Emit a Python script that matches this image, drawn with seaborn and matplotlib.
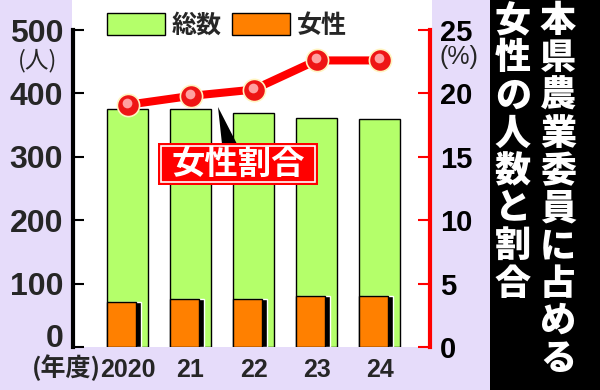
import matplotlib
matplotlib.use("Agg")
import matplotlib.pyplot as plt
import matplotlib.patheffects as pe
import matplotlib.transforms as mtransforms
from matplotlib.patches import Rectangle, Polygon, Patch
import seaborn as sns
import numpy as np
import pandas as pd

# data
years = ["2020", "21", "22", "23", "24"]
total = [375, 376, 369, 361, 359]
women = [71, 76, 76, 80, 80]
ratio = [19.1, 19.8, 20.3, 22.6, 22.6]
left_ticks = [0, 100, 200, 300, 400, 500]
right_ticks = [0, 5, 10, 15, 20, 25]
title_right = "本県農業委員に占める"
title_left = "女性の人数と割合"

green = "#b4ff6a"
orange = "#ff8000"
red = "#ff0000"
lavender = "#e6dcfa"

sns.set_style("white")
plt.rcParams["font.family"] = ["Noto Sans CJK JP", "DejaVu Sans"]
num_font = ["Liberation Sans", "DejaVu Sans"]

W, H = 600, 390
fig = plt.figure(figsize=(6, 3.9), dpi=100, facecolor=lavender)


def fx(px):
    return px / W


def fy(py):
    return 1 - py / H


# white plotting panel and black title panel
fig.patches.append(Rectangle((fx(72), fy(347)), fx(432) - fx(72), fy(0) - fy(347),
                             transform=fig.transFigure, facecolor="white",
                             edgecolor="none", zorder=-2))
fig.patches.append(Rectangle((fx(490), 0), 1 - fx(490), 1, transform=fig.transFigure,
                             facecolor="black", edgecolor="none", zorder=-2))

ax = fig.add_axes([fx(73), 43 / H, (430 - 73) / W, 317 / H])
ax.set_facecolor("none")

df = pd.DataFrame({"year": years, "total": total, "women": women, "ratio": ratio})
sns.barplot(data=df, x="year", y="total", color=green, saturation=1, width=0.65,
            edgecolor="black", linewidth=1, ax=ax, zorder=2)
xpos = np.arange(len(years))
ax.bar(xpos - 0.325 + 0.065, df["women"], width=0.48, align="edge", color="black",
       zorder=3)
ax.bar(xpos - 0.325, df["women"], width=0.46, align="edge", color=orange,
       edgecolor="black", linewidth=1, zorder=4)

ax.set_xlim(-0.865, 4.80)
ax.set_ylim(0, 500)
ax.set_yticks(left_ticks)
ylabels = ax.set_yticklabels([str(t) for t in left_ticks], family=num_font,
                             fontweight="bold", fontsize=23)
ylabels[0].set_verticalalignment("baseline")
ax.set_xticks(xpos)
ax.set_xticklabels(years, family=num_font, fontweight="bold", fontsize=18)
ax.tick_params(axis="y", direction="in", length=8, width=1.5, pad=7, color="black")
ax.tick_params(axis="x", length=0, pad=8)
ax.set_xlabel("")
ax.set_ylabel("")
for s in ["top", "right", "bottom"]:
    ax.spines[s].set_visible(False)
ax.spines["left"].set_linewidth(3)
ax.spines["left"].set_color("black")

ax2 = ax.twinx()
ax2.set_ylim(0, 25)
sns.lineplot(x=xpos, y=ratio, ax=ax2, color=red, linewidth=5.8,
             path_effects=[pe.Stroke(linewidth=7.6, foreground="white"), pe.Normal()],
             zorder=5)
ax2.plot(xpos, ratio, "o", markersize=16, markerfacecolor="#ee1515",
         markeredgecolor="#fff4c0", markeredgewidth=1.2, zorder=6)
shift = mtransforms.ScaledTranslation(-1 / 100, 2 / 100, fig.dpi_scale_trans)
ax2.plot(xpos, ratio, "o", markersize=7, markerfacecolor="#ffa0a0",
         markeredgecolor="none", transform=ax2.transData + shift, zorder=7)
ax2.set_yticks(right_ticks)
ax2.set_yticklabels([str(t) for t in right_ticks], family=num_font, fontweight="bold",
                    fontsize=21)
ax2.tick_params(axis="y", direction="in", length=9, width=1.5, pad=7, color=red,
                labelcolor="black")
for s in ["top", "left", "bottom"]:
    ax2.spines[s].set_visible(False)
ax2.spines["right"].set_linewidth(3)
ax2.spines["right"].set_color(red)
ax2.set_xlim(-0.865, 4.80)

# unit labels
fig.text(fx(38), fy(61), "(人)", fontsize=17, ha="center", va="center")
fig.text(fx(459), fy(57), "(%)", family=num_font, fontsize=18, ha="center", va="center")
fig.text(fx(101), fy(368), "(年度)", fontsize=18, fontweight="bold", ha="right",
         va="center")

# legend
handles = [Patch(facecolor=green, edgecolor="black", linewidth=1),
           Patch(facecolor=orange, edgecolor="black", linewidth=1)]
fig.legend(handles, ["総数", "女性"], loc="upper left", bbox_to_anchor=(fx(107), fy(13)),
           ncol=2, frameon=False, handlelength=2.3, handleheight=1.0,
           handletextpad=0.3, columnspacing=0.4, borderpad=0, borderaxespad=0,
           prop={"weight": "bold", "size": 18})

# 女性割合 callout
fig.patches.append(Polygon([(fx(218), fy(107)), (fx(222), fy(144)), (fx(237), fy(144))],
                           closed=True, transform=fig.transFigure, facecolor="black",
                           edgecolor="none", zorder=8))
fig.patches.append(Rectangle((fx(158), fy(185)), fx(318) - fx(158), fy(143) - fy(185),
                             transform=fig.transFigure, facecolor=red,
                             edgecolor="none", zorder=9))
fig.patches.append(Rectangle((fx(161), fy(182)), fx(315) - fx(161), fy(146) - fy(182),
                             transform=fig.transFigure, facecolor="none",
                             edgecolor="white", linewidth=1.2, zorder=10))
fig.text(fx(238), fy(164), "女性割合", color="white", fontsize=24, fontweight="bold",
         ha="center", va="center", zorder=11)

# vertical title
for i, ch in enumerate(title_right):
    fig.text(fx(558), fy(21 + 37.5 * i), ch, color="white", fontsize=26,
             fontweight="heavy", ha="center", va="center")
for i, ch in enumerate(title_left):
    fig.text(fx(513), fy(21 + 37.5 * i), ch, color="white", fontsize=26,
             fontweight="heavy", ha="center", va="center")

fig.savefig("out.png", dpi=100, facecolor=lavender)
